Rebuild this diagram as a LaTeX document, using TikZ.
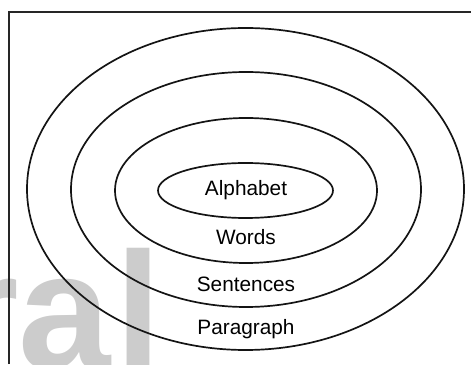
\documentclass[tikz,border=0pt]{standalone}
\usepackage{fontspec}
\setmainfont{Liberation Sans}
\begin{document}
\begin{tikzpicture}[x=1pt,y=1pt,
  ring/.style={draw=black!92, line width=1.7pt},
  lbl/.style={anchor=base, inner sep=0pt, font=\fontsize{20.8}{24}\selectfont},
  wmark/.style={anchor=base west, inner sep=0pt, text=black!20, font=\bfseries\fontsize{166}{166}\selectfont}]
\useasboundingbox (0,0) rectangle (471,364);
\begin{scope}
\clip (0,0) rectangle (471,364);
\node[wmark] (wm) at (-46,-4) {ra\kern4pt l};
\end{scope}
\draw[black!85, line width=1.3pt] (9,0) -- (9,352) -- (471,352);
\draw[ring] (245.5,175) ellipse [x radius=218.5, y radius=161];
\draw[ring] (246,174.5) ellipse [x radius=175, y radius=117.5];
\draw[ring] (246,173.5) ellipse [x radius=131, y radius=72.5];
\draw[ring] (245.5,173.5) ellipse [x radius=87.5, y radius=27.5];
\node[lbl] (alpha) at (246,168) {Alphabet};
\node[lbl] (words) at (246,119) {Words};
\node[lbl] (sent) at (246,72) {Sentences};
\node[lbl] (para) at (246,29) {Paragraph};
\end{tikzpicture}
\end{document}
